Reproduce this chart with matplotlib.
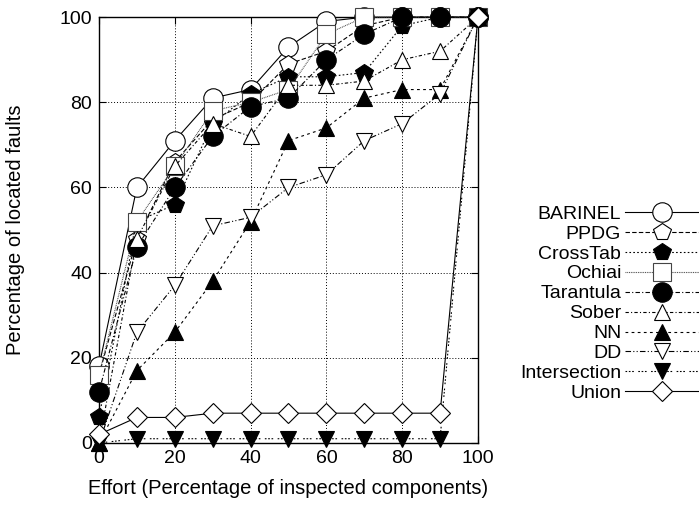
import matplotlib
matplotlib.use("Agg")
import matplotlib.pyplot as plt

plt.rcParams["font.family"] = ["Liberation Sans", "DejaVu Sans"]
plt.rcParams["font.size"] = 14

effort = [0, 10, 20, 30, 40, 50, 60, 70, 80, 90, 100]

barinel = [18, 60, 71, 81, 83, 93, 99, 100, 100, 100, 100]
ppdg = [16, 48, 66, 76, 80, 89, 92, 98, 100, 100, 100]
crosstab = [6, 52, 56, 75, 82, 86, 86, 87, 98, 100, 100]
ochiai = [16, 52, 65, 78, 80, 83, 96, 100, 100, 100, 100]
tarantula = [12, 46, 60, 72, 79, 81, 90, 96, 100, 100, 100]
sober = [0, 48, 65, 75, 72, 84, 84, 85, 90, 92, 100]
nn = [0, 17, 26, 38, 52, 71, 74, 81, 83, 83, 100]
dd = [0, 26, 37, 51, 53, 60, 63, 71, 75, 82, 100]
intersection = [0, 1, 1, 1, 1, 1, 1, 1, 1, 1, 100]
union = [2, 6, 6, 7, 7, 7, 7, 7, 7, 7, 100]

# label, values, linestyle, marker, marker size, fill
series = [
    ("BARINEL", barinel, "-", "o", 14, "white"),
    ("PPDG", ppdg, (0, (4, 2)), "p", 13, "white"),
    ("CrossTab", crosstab, (0, (1.5, 2)), "p", 13, "black"),
    ("Ochiai", ochiai, (0, (0.8, 0.8)), "s", 12.5, "white"),
    ("Tarantula", tarantula, (0, (4, 2, 1, 2)), "o", 14, "black"),
    ("Sober", sober, (0, (3, 2, 1, 2)), "^", 12, "white"),
    ("NN", nn, (0, (2.5, 3)), "^", 12, "black"),
    ("DD", dd, (0, (5, 2, 1, 2, 1, 2)), "v", 12, "white"),
    ("Intersection", intersection, (0, (1.5, 1.5, 1.5, 1.5, 1.5, 4)), "v", 12, "black"),
    ("Union", union, "-", "D", 10, "white"),
]

fig = plt.figure(figsize=(6.99, 5.05), dpi=100)
ax = fig.add_axes([0.1416, 0.1228, 0.5422, 0.8432])

for label, vals, ls, mk, ms, fc in series:
    ec = "#444444" if label == "Ochiai" else "black"
    ax.plot(effort, vals, linestyle=ls, color=ec, lw=0.8,
            marker=mk, ms=ms, mfc=fc, mec=ec, mew=0.8,
            label=label, clip_on=False, zorder=3)

ax.set_xlim(0, 100)
ax.set_ylim(0, 100)
ax.set_xticks(range(0, 101, 20))
ax.set_yticks(range(0, 101, 20))
ax.tick_params(direction="in", top=True, right=True, length=5, width=0.8,
               labelsize=14, pad=5)
ax.grid(True, color="black", linestyle=(0, (1, 2)), lw=0.7)
for s in ax.spines.values():
    s.set_linewidth(1.0)

ax.set_xlabel("Effort (Percentage of inspected components)", fontsize=14.5, labelpad=9)
ax.set_ylabel("Percentage of located faults", fontsize=14.5, labelpad=25)

leg = ax.legend(loc="upper right", bbox_to_anchor=(1.0, 0.594),
                bbox_transform=fig.transFigure, markerfirst=False,
                frameon=False, handlelength=3.8, handletextpad=0.2,
                labelspacing=0.12, borderaxespad=0, borderpad=0)

fig.savefig("out.png", dpi=100)
